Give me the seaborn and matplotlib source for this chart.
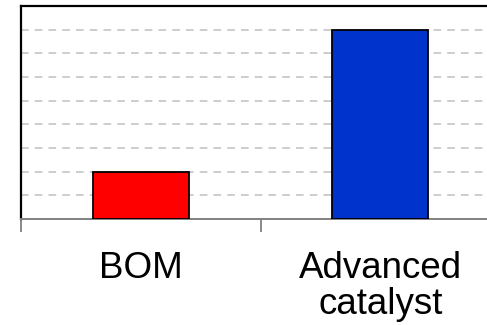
import matplotlib
matplotlib.use("Agg")
import matplotlib.pyplot as plt
import seaborn as sns
import pandas as pd

# Relative values for the two systems
categories = ["BOM", "Advanced catalyst"]
tick_labels = ["BOM", "Advanced\ncatalyst"]
values = [2, 8]
bar_colors = ["#FF0000", "#0033CC"]

sns.set_style("white")
plt.rcParams["font.family"] = ["Liberation Sans", "DejaVu Sans"]

df = pd.DataFrame({"category": categories, "value": values})

fig = plt.figure(figsize=(4.87, 3.25), dpi=100)
ax = fig.add_axes([21 / 487, 106 / 325, 479 / 487, 213 / 325])

sns.barplot(
    data=df, x="category", y="value", hue="category",
    palette=bar_colors, legend=False, width=0.4,
    edgecolor="black", linewidth=1.3, saturation=1, ax=ax, zorder=3,
)

ax.set_xlim(-0.5, 1.5)
ax.set_ylim(0, 9)

# dashed horizontal guides at every unit
ax.set_yticks(range(1, 9))
ax.yaxis.grid(True, color="#C0C0C0", linestyle=(0, (5, 4)), linewidth=1.1, zorder=0)
ax.xaxis.grid(False)
ax.tick_params(axis="y", left=False, labelleft=False)

# category labels centred, separators on the boundaries
ax.set_xticks([0, 1])
ax.set_xticklabels(tick_labels, fontsize=26.5)
ax.set_xticks([-0.5, 0.5, 1.5], minor=True)
ax.tick_params(axis="x", which="major", bottom=True, length=0, pad=23, colors="black")
ax.tick_params(axis="x", which="minor", bottom=True, length=9, width=1.3,
               color="#808080", direction="out")
for lbl in ax.get_xticklabels():
    lbl.set_linespacing(1.05)

ax.set_xlabel("")
ax.set_ylabel("")

for side in ["left", "top"]:
    ax.spines[side].set_color("black")
    ax.spines[side].set_linewidth(1.6)
ax.spines["bottom"].set_color("#808080")
ax.spines["bottom"].set_linewidth(1.4)
ax.spines["right"].set_visible(False)

fig.savefig("out.png", dpi=100)
